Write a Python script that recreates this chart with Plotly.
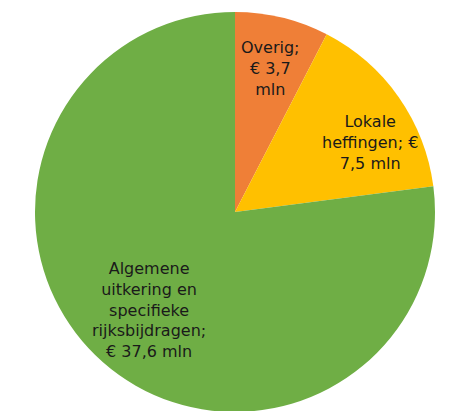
import math
import plotly.graph_objects as go

labels = ["Overig", "Lokale heffingen", "Algemene uitkering en specifieke rijksbijdragen"]
values = [3.7, 7.5, 37.6]
label_texts = [
    "Overig;<br>€ 3,7<br>mln",
    "Lokale<br>heffingen; €<br>7,5 mln",
    "Algemene<br>uitkering en<br>specifieke<br>rijksbijdragen;<br>€ 37,6 mln",
]
colors = ["#EF7F37", "#FFC000", "#6FAE45"]
label_radius = [0.74, 0.76, 0.65]
label_angle_shift = [0, 8, 0]

fig = go.Figure(go.Pie(
    labels=labels,
    values=values,
    sort=False,
    direction="clockwise",
    rotation=0,
    marker=dict(colors=colors, line=dict(width=0)),
    textinfo="none",
    hoverinfo="label+value",
    showlegend=False,
    domain=dict(x=[0, 1], y=[0, 1]),
))

total = sum(values)
cum = 0.0
annotations = []
for v, t, rf, da in zip(values, label_texts, label_radius, label_angle_shift):
    mid = (cum + v / 2) / total * 2 * math.pi + math.radians(da)
    cum += v
    x = 0.5 + 0.5 * rf * math.sin(mid)
    y = 0.5 + 0.5 * rf * math.cos(mid)
    annotations.append(dict(
        x=x, y=y, xref="paper", yref="paper", text=t, showarrow=False,
        xanchor="center", yanchor="middle", align="center",
        font=dict(family="DejaVu Sans", size=16, color="#1a1a1a"),
    ))

fig.update_layout(
    width=460, height=411,
    margin=dict(l=27, r=33, t=4, b=7),
    paper_bgcolor="white", plot_bgcolor="white",
    annotations=annotations,
)
fig.write_html("out.html")
